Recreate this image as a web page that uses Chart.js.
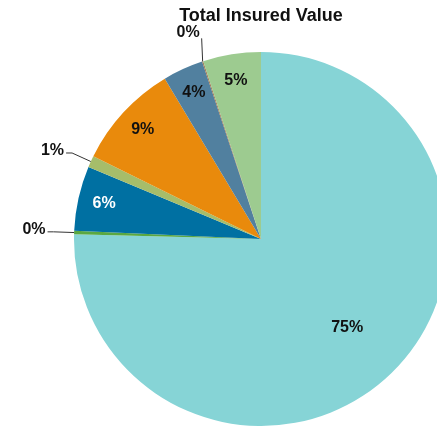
<!DOCTYPE html>
<html>
<head>
<meta charset="utf-8">
<script src="https://cdn.jsdelivr.net/npm/chart.js@4.4.0/dist/chart.umd.min.js"></script>
<style>
  html, body { margin: 0; padding: 0; background: #fff; overflow: hidden; }
  #wrap { position: relative; width: 448px; height: 426px; }
</style>
</head>
<body>
<div id="wrap"><canvas id="tivChart"></canvas></div>
<script>
const categories = ["Segment A", "Segment B", "Segment C", "Segment D", "Segment E", "Segment F", "Segment G", "Segment H"];
const shares = [75.4, 0.3, 5.6, 1.0, 9.1, 3.5, 0.1, 5.0];
const sliceColors = ["#86d4d6", "#5aa841", "#0070a2", "#a6bd6a", "#e98a0c", "#51809f", "#a07a55", "#9dcb90"];
const labelColors = ["#111", "#111", "#fff", "#111", "#111", "#111", "#111", "#111"];

const pctLabels = {
  id: "pctLabels",
  afterDatasetsDraw(chart) {
    const { ctx } = chart;
    const arcs = chart.getDatasetMeta(0).data;
    ctx.save();
    ctx.font = "bold 16px 'Liberation Sans', Arial, sans-serif";
    ctx.textBaseline = "middle";
    arcs.forEach((arc, i) => {
      const { x, y, startAngle, endAngle, outerRadius } = arc.getProps(["x", "y", "startAngle", "endAngle", "outerRadius"], true);
      const mid = (startAngle + endAngle) / 2;
      const cos = Math.cos(mid), sin = Math.sin(mid);
      const text = Math.round(shares[i]) + "%";
      if (shares[i] >= 2) {
        const f = shares[i] > 50 ? 0.66 : 0.86;
        ctx.textAlign = "center";
        ctx.fillStyle = labelColors[i];
        ctx.fillText(text, x + cos * outerRadius * f, y + sin * outerRadius * f);
        return;
      }
      // small slice: leader line out of the pie
      const ex = x + cos * outerRadius, ey = y + sin * outerRadius;
      ctx.strokeStyle = "#333";
      ctx.lineWidth = 1;
      ctx.fillStyle = "#111";
      ctx.textAlign = "right";
      ctx.beginPath();
      ctx.moveTo(ex, ey);
      if (Math.abs(sin) > Math.abs(cos)) {
        ctx.lineTo(ex - 1, ey - 23);
        ctx.stroke();
        ctx.fillText(text, ex - 3, ey - 29);
      } else {
        const kx = x + cos * outerRadius * 1.11, ky = y + sin * outerRadius * 1.11;
        ctx.lineTo(kx, ky);
        ctx.lineTo(kx - 6, ky);
        ctx.stroke();
        ctx.fillText(text, kx - 8, ky - 2);
      }
    });
    ctx.restore();
  }
};

new Chart(document.getElementById("tivChart"), {
  type: "pie",
  data: {
    labels: categories,
    datasets: [{
      data: shares,
      backgroundColor: sliceColors,
      borderWidth: 0,
    }],
  },
  options: {
    responsive: true,
    maintainAspectRatio: false,
    animation: false,
    layout: { padding: { left: 74, right: 0, top: 0, bottom: 0 } },
    plugins: {
      legend: { display: false },
      tooltip: { enabled: false },
      title: {
        display: true,
        text: "Total Insured Value",
        color: "#111",
        font: { family: "'Liberation Sans', Arial, sans-serif", size: 18, weight: "bold" },
        padding: { top: 5, bottom: 25.4 },
      },
    },
  },
  plugins: [pctLabels],
});
</script>
</body>
</html>
